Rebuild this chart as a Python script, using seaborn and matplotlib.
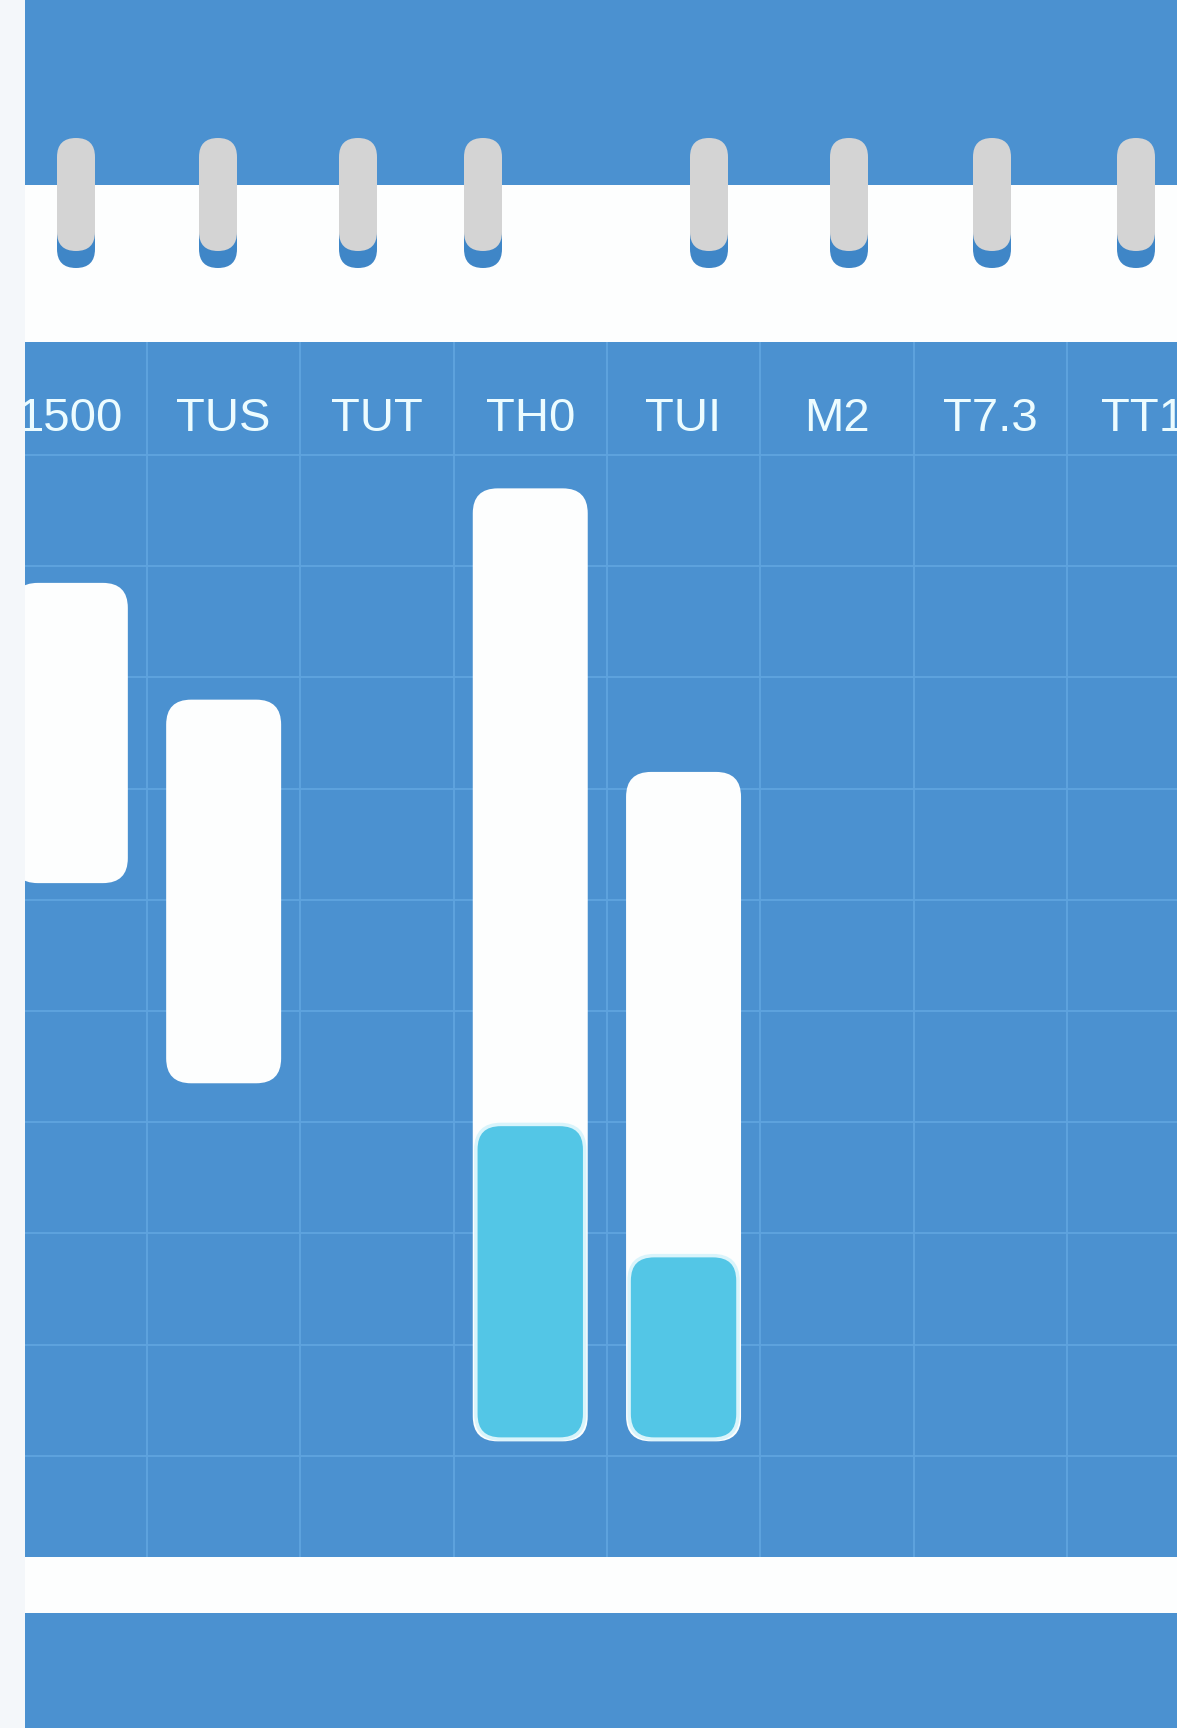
import numpy as np
import pandas as pd
import matplotlib
matplotlib.use('Agg')
import matplotlib.pyplot as plt
from matplotlib.patches import Rectangle, FancyBboxPatch
import seaborn as sns

# ------------------------------------------------------------
# data: columns of the planner and the blocks in them
# (block values are grid rows counted down from the header line)
# ------------------------------------------------------------
days = ['1500', 'TUS', 'TUT', 'TH0', 'TUI', 'M2', 'T7.3', 'TT1']
block_start = [1.15, 2.2, np.nan, 0.3, 2.85, np.nan, np.nan, np.nan]
block_end = [3.85, 5.65, np.nan, 8.87, 8.87, np.nan, np.nan, np.nan]
fill_start = [np.nan, np.nan, np.nan, 6.02, 7.2, np.nan, np.nan, np.nan]
fill_end = [np.nan, np.nan, np.nan, 8.85, 8.85, np.nan, np.nan, np.nan]

# colours
STRIP = '#f4f7fa'
BLUE = '#4b91d0'
GRID = '#5fa4df'
WHITE = '#fdfefe'
CYAN = '#53c6e6'
CYAN_EDGE = '#d9f4fb'
GREY = '#d4d4d4'
RING_BLUE = '#3f86c7'
LABEL = '#ecfcff'

W, H = 1177, 1728
ROW_PX = 111.2      # pixel height of one grid row
COL_PX = 153.3      # pixel width of one column

sns.set_theme(style='white')
plt.rcParams['font.family'] = ['Liberation Sans', 'DejaVu Sans']

fig = plt.figure(figsize=(W / 100, H / 100), dpi=100, facecolor=STRIP)

# ------------------------------------------------------------
# page decoration (pixel coordinates)
# ------------------------------------------------------------
bg = fig.add_axes([0, 0, 1, 1])
bg.set_xlim(0, W)
bg.set_ylim(H, 0)
bg.axis('off')
bg.add_patch(Rectangle((25, 0), W - 25, 185, color=BLUE, lw=0))
bg.add_patch(Rectangle((25, 185), W - 25, 157, color=WHITE, lw=0))
bg.add_patch(Rectangle((25, 1557), W - 25, 56, color=WHITE, lw=0))
bg.add_patch(Rectangle((25, 1613), W - 25, 115, color=BLUE, lw=0))

# spiral binding rings
ring_x = [76, 218, 358, 483, 709, 849, 992, 1136]
for rx in ring_x:
    bg.add_patch(FancyBboxPatch((rx - 19, 150), 38, 118,
                                boxstyle='round,pad=0,rounding_size=19',
                                fc=RING_BLUE, lw=0))
    bg.add_patch(FancyBboxPatch((rx - 19, 138), 38, 113,
                                boxstyle='round,pad=0,rounding_size=19',
                                fc=GREY, lw=0))

# ------------------------------------------------------------
# the grid with the blocks
# ------------------------------------------------------------
ax = fig.add_axes([25 / W, (H - 1557) / H, (W - 25) / W, 1215 / H])
ax.set_facecolor(BLUE)

df = pd.DataFrame({'day': days, 'start': block_start, 'end': block_end,
                   'fstart': fill_start, 'fend': fill_end})
df['span'] = df['end'] - df['start']
df['fspan'] = df['fend'] - df['fstart']

sns.barplot(data=df, x='day', y='span', order=days, width=0.75,
            color=WHITE, errorbar=None, ax=ax)
n_white = len(ax.patches)
sns.barplot(data=df, x='day', y='fspan', order=days, width=0.71,
            color=CYAN, errorbar=None, ax=ax)

xlim = (0.5 - 122 / COL_PX, 0.5 + (W - 147) / COL_PX)
ylim = (1102 / ROW_PX, -113 / ROW_PX)

# swap the square bars for rounded ones sitting at their start row
aspect = COL_PX / ROW_PX
radius = 25 / COL_PX
bars = list(ax.patches)
for k, p in enumerate(bars):
    h = p.get_height()
    p.remove()
    if not np.isfinite(h) or h == 0:
        continue
    i = int(round(p.get_x() + p.get_width() / 2))
    if k < n_white:
        y0, fc, ec, lw = block_start[i], WHITE, WHITE, 0
    else:
        y0, fc, ec, lw = fill_start[i], CYAN, CYAN_EDGE, 2.5
    ax.add_patch(FancyBboxPatch((p.get_x(), y0), p.get_width(), h,
                                boxstyle=f'round,pad=0,rounding_size={radius}',
                                mutation_aspect=aspect,
                                fc=fc, ec=ec, lw=lw, zorder=3))

ax.set_xlim(*xlim)
ax.set_ylim(*ylim)
ax.set_xticks(np.arange(0.5, len(days) - 1, 1))
ax.set_yticks(np.arange(0, 10, 1))
ax.grid(True, color=GRID, lw=1.3)
ax.set_axisbelow(True)
ax.tick_params(length=0, labelbottom=False, labelleft=False)
ax.set_xlabel('')
ax.set_ylabel('')
for s in ax.spines.values():
    s.set_visible(False)

# header row labels (the last one runs off the page, as in the planner)
for i, d in enumerate(days):
    ax.text(i, -0.22, d, ha='center', va='baseline', fontsize=34,
            color=LABEL, clip_on=True, zorder=4)

fig.savefig('out.png', dpi=100, facecolor=fig.get_facecolor())
plt.close(fig)
